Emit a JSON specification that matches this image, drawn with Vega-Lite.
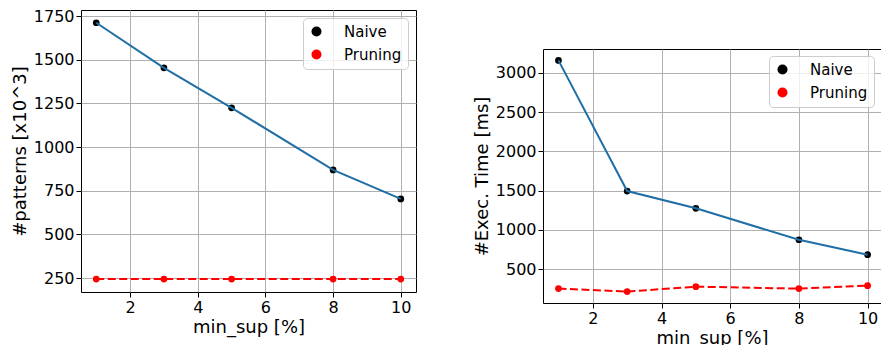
{
  "$schema": "https://vega.github.io/schema/vega-lite/v6.json",
  "autosize": "none",
  "padding": {"left": 81, "top": 10, "right": 800, "bottom": 335},
  "background": "white",
  "config": {
    "font": "DejaVu Sans",
    "view": {"stroke": "black", "strokeWidth": 1},
    "axis": {
      "domain": false, "grid": true, "gridColor": "#b0b0b0", "gridWidth": 1,
      "tickColor": "black", "tickSize": 5, "tickWidth": 1,
      "labelFont": "DejaVu Sans", "labelFontSize": 16, "labelColor": "black", "labelPadding": 2,
      "titleFont": "DejaVu Sans", "titleFontSize": 18, "titleFontWeight": "normal", "titleColor": "black"
    },
    "axisX": {"titlePadding": 3},
    "axisY": {"titlePadding": 4},
    "legend": {
      "orient": "top-right", "offset": 8, "title": null,
      "fillColor": "rgba(255,255,255,0.8)", "strokeColor": "#cccccc", "cornerRadius": 4, "padding": 6,
      "labelFont": "DejaVu Sans", "labelFontSize": 15, "labelColor": "black",
      "symbolSize": 100, "symbolStrokeWidth": 2, "labelOffset": 20, "rowPadding": 7
    }
  },
  "datasets": {
    "patterns": [
      {"min_sup": 1, "value": 1712, "series": "Naive"},
      {"min_sup": 3, "value": 1454, "series": "Naive"},
      {"min_sup": 5, "value": 1225, "series": "Naive"},
      {"min_sup": 8, "value": 869, "series": "Naive"},
      {"min_sup": 10, "value": 703, "series": "Naive"},
      {"min_sup": 1, "value": 244, "series": "Pruning"},
      {"min_sup": 3, "value": 244, "series": "Pruning"},
      {"min_sup": 5, "value": 244, "series": "Pruning"},
      {"min_sup": 8, "value": 244, "series": "Pruning"},
      {"min_sup": 10, "value": 244, "series": "Pruning"}
    ],
    "exectime": [
      {"min_sup": 1, "value": 3158, "series": "Naive"},
      {"min_sup": 3, "value": 1495, "series": "Naive"},
      {"min_sup": 5, "value": 1275, "series": "Naive"},
      {"min_sup": 8, "value": 875, "series": "Naive"},
      {"min_sup": 10, "value": 685, "series": "Naive"},
      {"min_sup": 1, "value": 253, "series": "Pruning"},
      {"min_sup": 3, "value": 215, "series": "Pruning"},
      {"min_sup": 5, "value": 278, "series": "Pruning"},
      {"min_sup": 8, "value": 253, "series": "Pruning"},
      {"min_sup": 10, "value": 291, "series": "Pruning"}
    ]
  },
  "bounds": "flush",
  "spacing": 127,
  "resolve": {"scale": {"x": "independent", "y": "independent", "color": "independent"}, "legend": {"color": "independent"}},
  "hconcat": [
    {
      "width": 335, "height": 282,
      "data": {"name": "patterns"},
      "layer": [
        {
          "transform": [{"filter": "datum.series === 'Pruning'"}],
          "mark": {"type": "line", "color": "red", "strokeWidth": 2, "strokeDash": [8, 3.5]},
          "encoding": {
            "x": {"field": "min_sup", "type": "quantitative", "scale": {"domain": [0.55, 10.45], "nice": false, "zero": false}, "axis": {"values": [2, 4, 6, 8, 10], "title": "min_sup [%]"}},
            "y": {"field": "value", "type": "quantitative", "scale": {"domain": [170, 1785], "nice": false, "zero": false}, "axis": {"values": [250, 500, 750, 1000, 1250, 1500, 1750], "format": "d", "title": "#patterns [x10^3]"}}
          }
        },
        {
          "mark": {"type": "point", "filled": true, "opacity": 1, "size": 45},
          "encoding": {
            "x": {"field": "min_sup", "type": "quantitative"},
            "y": {"field": "value", "type": "quantitative"},
            "color": {"field": "series", "type": "nominal", "scale": {"domain": ["Naive", "Pruning"], "range": ["black", "red"]},
              "legend": {
                "encode": {"symbols": {
                "shape": {"value": "M-3.1,0L3.1,0M0.75,0A0.75,0.75,0,1,1,-0.75,0A0.75,0.75,0,1,1,0.75,0Z"},
                "size": {"value": 100},
                "strokeWidth": {"value": 2},
                "fill": {"signal": "datum.value === 'Naive' ? 'black' : 'red'"},
                "stroke": {"signal": "datum.value === 'Naive' ? 'black' : 'red'"},
                "strokeDash": {"signal": "datum.value === 'Pruning' ? [6, 3] : [1, 0]"},
                "opacity": {"value": 1}
              }}}}
          }
        },
        {
          "transform": [{"filter": "datum.series === 'Naive'"}],
          "mark": {"type": "line", "color": "#1f6ea5", "strokeWidth": 2},
          "encoding": {
            "x": {"field": "min_sup", "type": "quantitative"},
            "y": {"field": "value", "type": "quantitative"}
          }
        }
      ]
    },
    {
      "bounds": "flush",
      "spacing": 0,
      "resolve": {"scale": {"color": "independent"}, "legend": {"color": "independent"}},
      "vconcat": [
        {
          "width": 338, "height": 39,
          "data": {"values": []},
          "mark": "point",
          "view": {"stroke": null}
        },
        {
          "width": 338, "height": 254,
          "data": {"name": "exectime"},
          "layer": [
            {
              "transform": [{"filter": "datum.series === 'Pruning'"}],
              "mark": {"type": "line", "color": "red", "strokeWidth": 2, "strokeDash": [8, 3.5]},
              "encoding": {
                "x": {"field": "min_sup", "type": "quantitative", "scale": {"domain": [0.55, 10.39], "nice": false, "zero": false}, "axis": {"values": [2, 4, 6, 8, 10], "title": "min_sup [%]"}},
                "y": {"field": "value", "type": "quantitative", "scale": {"domain": [70, 3303], "nice": false, "zero": false}, "axis": {"values": [500, 1000, 1500, 2000, 2500, 3000], "format": "d", "title": "#Exec. Time [ms]"}}
              }
            },
            {
              "mark": {"type": "point", "filled": true, "opacity": 1, "size": 45},
              "encoding": {
                "x": {"field": "min_sup", "type": "quantitative"},
                "y": {"field": "value", "type": "quantitative"},
                "color": {"field": "series", "type": "nominal", "scale": {"domain": ["Naive", "Pruning"], "range": ["black", "red"]},
                  "legend": {"offset": 7,
                    "encode": {"symbols": {
                    "shape": {"value": "M-3.1,0L3.1,0M0.75,0A0.75,0.75,0,1,1,-0.75,0A0.75,0.75,0,1,1,0.75,0Z"},
                    "size": {"value": 100},
                    "strokeWidth": {"value": 2},
                    "fill": {"signal": "datum.value === 'Naive' ? 'black' : 'red'"},
                    "stroke": {"signal": "datum.value === 'Naive' ? 'black' : 'red'"},
                    "strokeDash": {"signal": "datum.value === 'Pruning' ? [6, 3] : [1, 0]"},
                    "opacity": {"value": 1}
                  }}}}
              }
            },
            {
              "transform": [{"filter": "datum.series === 'Naive'"}],
              "mark": {"type": "line", "color": "#1f6ea5", "strokeWidth": 2},
              "encoding": {
                "x": {"field": "min_sup", "type": "quantitative"},
                "y": {"field": "value", "type": "quantitative"}
              }
            }
          ]
        }
      ]
    }
  ]
}
